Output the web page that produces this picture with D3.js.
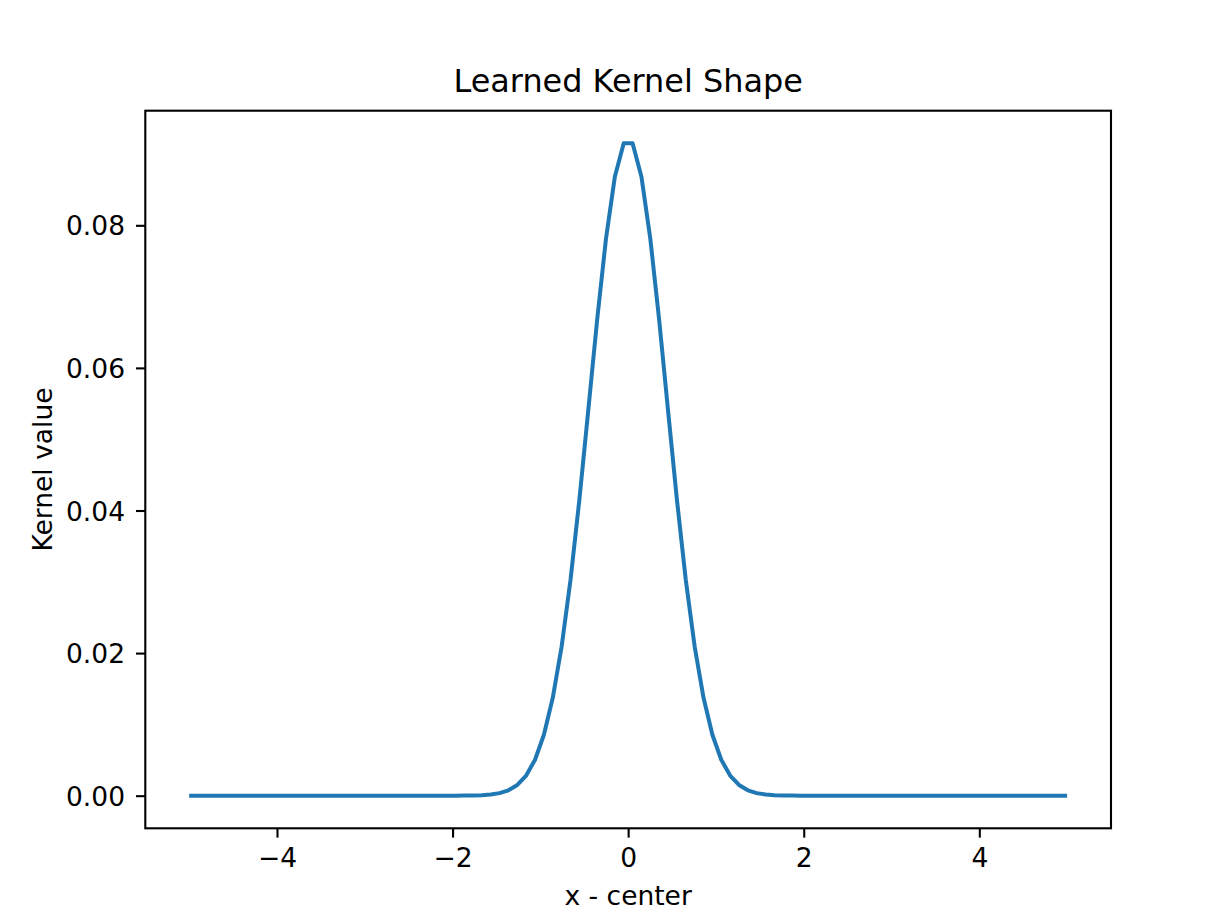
<!DOCTYPE html>
<html>
<head>
<meta charset="utf-8">
<script src="https://cdn.jsdelivr.net/npm/d3@7"></script>
<style>
  html, body { margin: 0; padding: 0; background: #fff; }
  svg { display: block; }
  text { font-family: "DejaVu Sans", sans-serif; fill: #000; }
</style>
</head>
<body>
<svg id="chart" width="1224" height="917"></svg>
<script>
// ---- data ----
const titleText = "Learned Kernel Shape";
const xLabelText = "x - center";
const yLabelText = "Kernel value";

const xValues = [
  -5.0000, -4.8990, -4.7980, -4.6970, -4.5960, -4.4949, -4.3939, -4.2929, -4.1919, -4.0909,
  -3.9899, -3.8889, -3.7879, -3.6869, -3.5859, -3.4848, -3.3838, -3.2828, -3.1818, -3.0808,
  -2.9798, -2.8788, -2.7778, -2.6768, -2.5758, -2.4747, -2.3737, -2.2727, -2.1717, -2.0707,
  -1.9697, -1.8687, -1.7677, -1.6667, -1.5657, -1.4646, -1.3636, -1.2626, -1.1616, -1.0606,
  -0.9596, -0.8586, -0.7576, -0.6566, -0.5556, -0.4545, -0.3535, -0.2525, -0.1515, -0.0505,
   0.0505,  0.1515,  0.2525,  0.3535,  0.4545,  0.5556,  0.6566,  0.7576,  0.8586,  0.9596,
   1.0606,  1.1616,  1.2626,  1.3636,  1.4646,  1.5657,  1.6667,  1.7677,  1.8687,  1.9697,
   2.0707,  2.1717,  2.2727,  2.3737,  2.4747,  2.5758,  2.6768,  2.7778,  2.8788,  2.9798,
   3.0808,  3.1818,  3.2828,  3.3838,  3.4848,  3.5859,  3.6869,  3.7879,  3.8889,  3.9899,
   4.0909,  4.1919,  4.2929,  4.3939,  4.4949,  4.5960,  4.6970,  4.7980,  4.8990,  5.0000
];

const kernelValues = [
  0, 0, 0, 0, 0, 0, 0, 0, 0, 0,
  0, 0, 0, 0, 0, 0, 0, 0, 0, 0,
  0, 0, 0, 0, 0, 0, 0, 0, 0, 0.0000014,
  0.0000041, 0.0000112, 0.0000289, 0.0000705, 0.000164, 0.000362, 0.000756, 0.001500, 0.002824, 0.005043,
  0.008541, 0.01373, 0.02092, 0.03026, 0.04151, 0.05403, 0.06670, 0.07812, 0.08680, 0.09150,
  0.09150, 0.08680, 0.07812, 0.06670, 0.05403, 0.04151, 0.03026, 0.02092, 0.01373, 0.008541,
  0.005043, 0.002824, 0.001500, 0.000756, 0.000362, 0.000164, 0.0000705, 0.0000289, 0.0000112, 0.0000041,
  0.0000014, 0, 0, 0, 0, 0, 0, 0, 0, 0,
  0, 0, 0, 0, 0, 0, 0, 0, 0, 0,
  0, 0, 0, 0, 0, 0, 0, 0, 0, 0
];

const xTicks = [-4, -2, 0, 2, 4];
const yTicks = [0.00, 0.02, 0.04, 0.06, 0.08];

// ---- layout ----
const W = 1224, H = 917;
const plot = { left: 145.3, right: 1111, top: 110.7, bottom: 828.3 };
const tickFont = 26.5, titleFont = 31.9;
const tickLen = 9.3, spineW = 2.1;

const svg = d3.select("#chart");

const points = xValues.map((x, i) => ({ x, y: kernelValues[i] }));

const xMin = d3.min(xValues), xMax = d3.max(xValues);
const xPad = (xMax - xMin) * 0.05;
const yMin = d3.min(kernelValues), yMax = d3.max(kernelValues);
const yPad = (yMax - yMin) * 0.05;

const x = d3.scaleLinear().domain([xMin - xPad, xMax + xPad]).range([plot.left, plot.right]);
const y = d3.scaleLinear().domain([yMin - yPad, yMax + yPad]).range([plot.bottom, plot.top]);

// line
const line = d3.line().x(d => x(d.x)).y(d => y(d.y));
svg.append("path")
  .datum(points)
  .attr("d", line)
  .attr("fill", "none")
  .attr("stroke", "#1f77b4")
  .attr("stroke-width", 4)
  .attr("stroke-linejoin", "round")
  .attr("stroke-linecap", "butt");

// x axis
const xAxis = d3.axisBottom(x).tickValues(xTicks).tickSize(tickLen).tickSizeOuter(0).tickPadding(10.5)
  .tickFormat(d3.format("d"));
const gx = svg.append("g").attr("transform", `translate(0,${plot.bottom})`).call(xAxis);
gx.select(".domain").remove();
gx.selectAll(".tick line").attr("stroke", "#000").attr("stroke-width", spineW);
gx.selectAll(".tick text").attr("font-size", tickFont).attr("fill", "#000")
  .attr("font-family", "DejaVu Sans").attr("dy", "0.71em");

// y axis
const yAxis = d3.axisLeft(y).tickValues(yTicks).tickSize(tickLen).tickSizeOuter(0).tickPadding(11)
  .tickFormat(d3.format(".2f"));
const gy = svg.append("g").attr("transform", `translate(${plot.left},0)`).call(yAxis);
gy.select(".domain").remove();
gy.selectAll(".tick line").attr("stroke", "#000").attr("stroke-width", spineW);
gy.selectAll(".tick text").attr("font-size", tickFont).attr("fill", "#000")
  .attr("font-family", "DejaVu Sans").attr("dy", "0.36em");

// spines
svg.append("rect")
  .attr("x", plot.left).attr("y", plot.top)
  .attr("width", plot.right - plot.left).attr("height", plot.bottom - plot.top)
  .attr("fill", "none").attr("stroke", "#000").attr("stroke-width", spineW);

// title
svg.append("text")
  .attr("x", (plot.left + plot.right) / 2).attr("y", 92)
  .attr("text-anchor", "middle").attr("font-size", titleFont)
  .text(titleText);

// x label
svg.append("text")
  .attr("x", (plot.left + plot.right) / 2).attr("y", 905)
  .attr("text-anchor", "middle").attr("font-size", tickFont)
  .text(xLabelText);

// y label
svg.append("text")
  .attr("transform", `translate(51.5,${(plot.top + plot.bottom) / 2}) rotate(-90)`)
  .attr("text-anchor", "middle").attr("font-size", tickFont)
  .text(yLabelText);
</script>
</body>
</html>
